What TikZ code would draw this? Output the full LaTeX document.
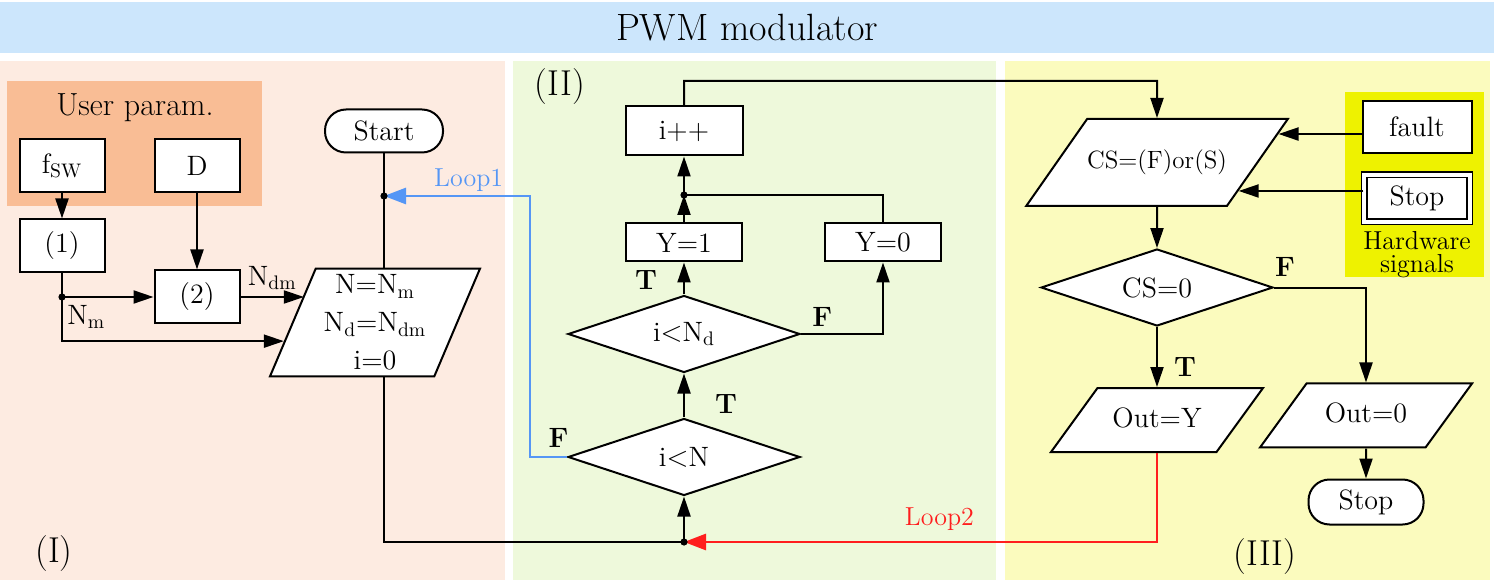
\documentclass[tikz,border=0pt]{standalone}
\usepackage{tikz}
\usetikzlibrary{shapes.geometric, arrows.meta, positioning, calc}

\definecolor{titleblue}{RGB}{204,230,252}
\definecolor{panelone}{RGB}{253,235,225}
\definecolor{paneltwo}{RGB}{238,249,219}
\definecolor{panelthree}{RGB}{251,251,190}
\definecolor{userorange}{RGB}{249,189,149}
\definecolor{hwyellow}{RGB}{238,242,0}
\definecolor{loopblue}{RGB}{85,150,245}
\definecolor{loopred}{RGB}{255,30,30}

\begin{document}
\begin{tikzpicture}[x=0.5pt, y=-0.5pt,
    every node/.style={font=\fontsize{14}{17}\selectfont},
    process/.style={rectangle, draw=black, line width=1pt, fill=white, inner sep=0pt, minimum width=42.5pt, minimum height=26.5pt},
    startstop/.style={rectangle, rounded corners=10.5pt, draw=black, line width=1pt, fill=white, inner sep=0pt, minimum width=59pt, minimum height=21.5pt},
    io/.style={trapezium, trapezium stretches body=true, draw=black, line width=1pt, fill=white, inner xsep=0pt, align=center},
    decision/.style={diamond, aspect=3, draw=black, line width=1pt, fill=white, inner sep=0pt, minimum width=116pt, minimum height=38.5pt},
    arrow/.style={line width=1pt, -{Triangle[length=10pt, width=6.5pt]}},
    line/.style={line width=1pt},
    loopa/.style={line width=1.4pt, draw=loopblue, -{Triangle[length=11pt, width=8pt]}},
    loopb/.style={line width=1.4pt, draw=loopred, -{Triangle[length=11pt, width=8pt]}},
    tf/.style={font=\fontsize{14}{16}\selectfont\bfseries, inner sep=0pt},
    looplabel/.style={font=\fontsize{13}{15}\selectfont, inner sep=0pt},
    part/.style={font=\fontsize{18}{20}\selectfont},
    dot/.style={circle, fill=black, inner sep=0pt, minimum size=3.6pt}
    ]

    % Panels
    \useasboundingbox (0,0) rectangle (1494,587);
    \fill[titleblue] (0,2) rectangle (1494,53);
    \fill[panelone] (0,61) rectangle (505,580);
    \fill[paneltwo] (513,61) rectangle (996,580);
    \fill[panelthree] (1005,61) rectangle (1490,580);
    \fill[userorange] (7,81) rectangle (262,206);
    \fill[hwyellow] (1345,92) rectangle (1484,277);
    \node (title) at (747,28) [font=\fontsize{19}{22}\selectfont] {PWM modulator};

    % Panel (I)
    \node (user) at (135,108) [font=\fontsize{16}{18}\selectfont] {User param.};
    \node (fsw) [process] at (62,166) {f\textsubscript{SW}};
    \node (duty) [process, right=24pt of fsw] {D};
    \node (one) [process, below=12.5pt of fsw] {(1)};
    \node (two) [process, below=38pt of duty] {(2)};
    \node (start) [startstop] at (384,131) {Start};
    \node (init) [io, trapezium left angle=67, trapezium right angle=113, minimum width=105pt, inner ysep=3pt, font=\fontsize{14}{19}\selectfont] at (375,322.5) {N=N\textsubscript{m}\\N\textsubscript{d}=N\textsubscript{dm}\\i=0};

    % Panel (II)
    \node (iltn) [decision] at (684,457) {i$<$N};
    \node (iltnd) [decision, above=22pt of iltn] {i$<$N\textsubscript{d}};
    \node (yone) [process, minimum width=58pt, minimum height=19pt, above=16pt of iltnd] {Y=1};
    \node (yzero) [process, minimum width=58pt, minimum height=19pt, right=40.5pt of yone] {Y=0};
    \node (ipp) [process, minimum width=58.5pt, minimum height=24.5pt, above=33pt of yone] {i++};

    % Panel (III)
    \node (cs) [io, trapezium left angle=55, trapezium right angle=125, minimum width=117.5pt, text height=9pt, text depth=3pt, inner ysep=15.75pt, font=\fontsize{12.5}{14}\selectfont] at (1157,162.5) {CS=(F)or(S)};
    \node (cszero) [decision, below=20.5pt of cs] {CS=0};
    \node (outy) [io, trapezium left angle=54, trapezium right angle=126, minimum width=106pt, text height=10pt, text depth=3pt, inner ysep=9.5pt, below=30pt of cszero] {Out=Y};
    \node (outz) [io, trapezium left angle=54, trapezium right angle=126, minimum width=106pt, text height=10pt, text depth=3pt, inner ysep=9.5pt] at (1366,415.5) {Out=0};
    \node (stopend) [startstop, minimum width=57.5pt, minimum height=22.5pt, below=15pt of outz] {Stop};
    \node (fault) [process, minimum width=54.5pt, minimum height=26pt] at (1417,127) {fault};
    \node (hwstop) [process, double, double distance=2pt, line width=0.8pt, minimum width=52.75pt, minimum height=23.5pt, below=10pt of fault] {Stop};
    \node (hwtext) [below=4pt of hwstop, align=center, inner sep=0pt, font=\fontsize{13}{11.5}\selectfont] {Hardware\\signals};

    % Part labels
    \node (pone) [part] at (54,554) {(I)};
    \node (ptwo) [part] at (560,87) {(II)};
    \node (pthree) [part] at (1265,557) {(III)};

    % Junctions
    \coordinate (sj) at (start |- 0,196);
    \coordinate (nj) at (one |- two);
    \coordinate (jn) at (iltn |- 0,542);
    \coordinate (dj) at (yone |- 0,195);
    \coordinate (ctop) at (cs |- 0,81);
    \coordinate (ndmin) at ($(init.top left corner)!0.24!(init.bottom left corner)$);
    \coordinate (nmin) at ($(init.top left corner)!0.67!(init.bottom left corner)$);
    \coordinate (faultin) at ($(cs.top right corner)!0.18!(cs.bottom right corner)$);
    \coordinate (stopin) at ($(cs.top right corner)!0.82!(cs.bottom right corner)$);

    % Arrows - panel (I)
    \draw [arrow] (fsw) -- (one);
    \draw [arrow] (duty) -- (two);
    \draw [arrow] (one) |- (nmin);
    \draw [arrow] (nj) -- (two);
    \draw [arrow] (two) -- node[above=3pt, inner sep=0pt] {N\textsubscript{dm}} (two -| ndmin);
    \node (nm) [below right=4pt and 2.5pt of nj, inner sep=0pt] {N\textsubscript{m}};
    \draw [line] (start) -- (start |- init.north);
    \draw [line] (start |- init.south) |- (jn);

    % Arrows - panel (II)
    \draw [arrow] (jn) -- (iltn);
    \draw [arrow] (iltn) -- node[tf, right=15pt, pos=0.31] {T} (iltnd);
    \draw [arrow] (iltnd) -- node[tf, left=13pt, pos=0.45] {T} (yone);
    \draw [arrow] (iltnd.east) -| node[tf, pos=0.13, above=3pt] {F} (yzero);
    \draw [arrow] (yone) -- (dj);
    \draw [line] (yzero) |- (dj);
    \draw [arrow] (dj) -- (ipp);
    \draw [arrow] (ipp) |- (ctop) -- (cs);

    % Arrows - panel (III)
    \draw [arrow] (cs) -- (cszero);
    \draw [arrow] (fault.west |- faultin) -- (faultin);
    \draw [arrow] (hwstop.west |- stopin) -- (stopin);
    \draw [arrow] (cszero.east) -| node[tf, pos=0.06, above=5pt] {F} (outz);
    \draw [arrow] (cszero) -- node[tf, right=8pt, pos=0.66] {T} (cszero |- outy.north);
    \draw [arrow] (outz) -- (stopend);

    % Loops
    \draw [loopa] (iltn.west) -- node[tf, pos=0.23, above=4pt] {F} ++(-37,0) |- node[looplabel, pos=0.71, above=1.5pt, text=loopblue] {Loop1} (sj);
    \draw [loopb] (cszero |- outy.south) |- node[looplabel, pos=0.73, above=5pt, text=loopred] {Loop2} (jn);

    % Dots
    \node [dot] at (sj) {};
    \node [dot] at (nj) {};
    \node [dot] at (jn) {};
    \node [dot] at (dj) {};

\end{tikzpicture}
\end{document}
